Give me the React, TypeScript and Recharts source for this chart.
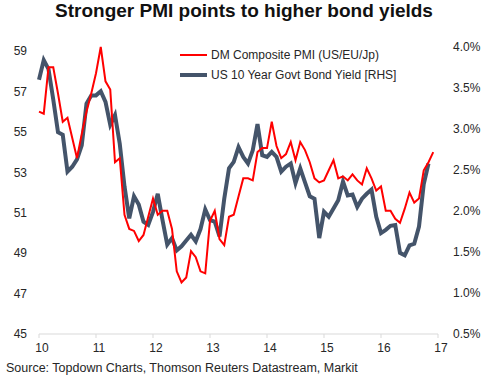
import { LineChart, Line, XAxis, YAxis, Legend } from "recharts"

// monthly, Jan 2010 .. Dec 2016
const pmi = [
  56.0, 55.9, 58.2, 58.2, 56.9, 55.5, 55.7, 54.7, 53.7, 54.9, 56.0, 56.9,
  57.9, 59.2, 57.5, 57.1, 53.5, 53.7, 50.9, 50.2, 50.1, 49.6, 49.9, 50.8,
  51.7, 50.9, 51.1, 51.1, 50.2, 48.1, 47.55, 47.8, 49.1, 48.8, 48.1, 48.0,
  50.6, 51.1, 49.7, 49.4, 50.8, 50.9, 51.8, 52.7, 52.7, 52.6, 54.0, 54.2,
  54.2, 55.5, 54.3, 53.7, 53.9, 54.5, 53.6, 54.5, 54.1, 53.5, 52.7, 52.5,
  52.6, 53.1, 53.6, 52.7, 52.8, 52.6, 52.9, 52.6, 52.4, 53.2, 52.7, 52.1,
  52.3, 51.1, 51.1, 50.7, 50.5, 51.2, 52.0, 51.5, 51.7, 53.1, 53.5, 54.0,
]

// US 10y yield (%), Jan 2010 .. Nov 2016
const yld = [
  3.60, 3.84, 3.73, 3.36, 2.96, 2.93, 2.48, 2.54, 2.63, 2.80, 3.31, 3.41,
  3.41, 3.46, 3.33, 3.05, 3.17, 2.82, 2.30, 1.91, 2.18, 2.08, 1.87, 1.83,
  1.99, 2.21, 1.89, 1.59, 1.67, 1.52, 1.57, 1.64, 1.71, 1.63, 1.78, 2.02,
  1.89, 1.87, 1.69, 2.15, 2.52, 2.60, 2.78, 2.66, 2.58, 2.74, 3.06, 2.68,
  2.66, 2.72, 2.66, 2.48, 2.54, 2.58, 2.34, 2.52, 2.35, 2.18, 2.15, 1.67,
  1.99, 1.93, 2.03, 2.13, 2.36, 2.19, 2.20, 2.05, 2.15, 2.21, 2.26, 1.93,
  1.73, 1.77, 1.82, 1.83, 1.49, 1.46, 1.58, 1.60, 1.81, 2.33, 2.58,
]

const yearTicks = [10, 11, 12, 13, 14, 15, 16, 17]
const pmiTicks = [45, 47, 49, 51, 53, 55, 57, 59]
const yieldTicks = [0.5, 1.0, 1.5, 2.0, 2.5, 3.0, 3.5, 4.0]

const RED = "#ff0000"
const SLATE = "#44546a"
const TXT = "#262626"

const data = pmi.map((v, i) => ({
  t: 10 + i / 12,
  pmi: v,
  yld: yld[i],
}))

const legendItems = [
  { label: "DM Composite PMI (US/EU/Jp)", color: RED, w: 2 },
  { label: "US 10 Year Govt Bond Yield [RHS]", color: SLATE, w: 4 },
]

function LegendBox() {
  return (
    <div>
      {legendItems.map(it => (
        <div key={it.label} style={{ display: "flex", alignItems: "center", height: 20 }}>
          <svg width={28} height={8} style={{ marginRight: 3 }}>
            <line x1={0} y1={4} x2={27} y2={4} stroke={it.color} strokeWidth={it.w} />
          </svg>
          <span style={{ fontSize: 12, color: TXT }}>{it.label}</span>
        </div>
      ))}
    </div>
  )
}

export default function App() {
  return (
    <div style={{ position: "relative", width: 488, height: 380, background: "#fff", fontFamily: "'Liberation Sans', Arial, sans-serif" }}>
      <style>{`body{margin:0}`}</style>

      <div style={{ position: "absolute", top: 0, left: 0, width: 488, textAlign: "center", fontSize: 19, fontWeight: "bold", color: "#111", lineHeight: "22px" }}>
        Stronger PMI points to higher bond yields
      </div>

      <LineChart width={488} height={380} data={data} margin={{ top: 47, right: 0, bottom: 16, left: 0 }}>
        <XAxis
          dataKey="t"
          type="number"
          domain={[10, 17]}
          ticks={yearTicks}
          stroke="#d9d9d9"
          tickSize={4}
          tickMargin={5}
          height={30}
          tick={{ fill: TXT, fontSize: 12, dx: 3 }}
        />
        <YAxis
          yAxisId="left"
          domain={[45, 59]}
          ticks={pmiTicks}
          axisLine={false}
          tickLine={false}
          tickMargin={6}
          width={39}
          tick={{ fill: TXT, fontSize: 12 }}
        />
        <YAxis
          yAxisId="right"
          orientation="right"
          domain={[0.5, 4.0]}
          ticks={yieldTicks}
          axisLine={false}
          tickLine={false}
          tickMargin={9}
          width={50}
          tickFormatter={(v: number) => v.toFixed(1) + "%"}
          tick={{ fill: TXT, fontSize: 12 }}
        />

        <Legend
          layout="vertical"
          align="center"
          verticalAlign="middle"
          wrapperStyle={{ position: "absolute", top: 45, left: 180, width: 240 }}
          content={() => <LegendBox />}
        />

        <Line
          yAxisId="right"
          dataKey="yld"
          stroke={SLATE}
          strokeWidth={4}
          dot={false}
          isAnimationActive={false}
        />
        <Line
          yAxisId="left"
          dataKey="pmi"
          stroke={RED}
          strokeWidth={2}
          dot={false}
          isAnimationActive={false}
        />
      </LineChart>

      <div style={{ position: "absolute", top: 360, left: 6, fontSize: 12.5, color: TXT, lineHeight: "16px" }}>
        Source: Topdown Charts, Thomson Reuters Datastream, Markit
      </div>
    </div>
  )
}
